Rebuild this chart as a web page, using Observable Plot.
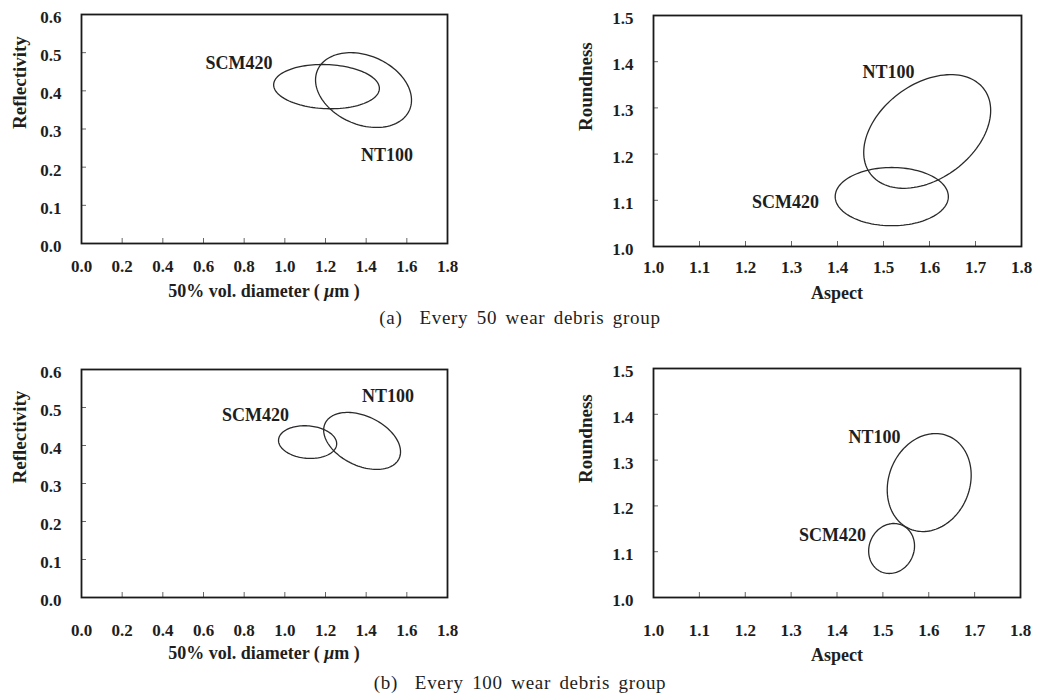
<!DOCTYPE html>
<html><head><meta charset="utf-8">
<script src="https://cdn.jsdelivr.net/npm/d3@7"></script>
<script src="https://cdn.jsdelivr.net/npm/@observablehq/plot@0.6"></script>
<style>
body{margin:0;background:#fff;}
#fig{position:relative;width:1037px;height:696px;overflow:hidden;background:#fff;font-family:"Liberation Serif","Times New Roman",serif;color:#1e1e1e;}
.panel{position:absolute;}
.xt{position:absolute;font-weight:bold;font-size:18px;transform:translate(-50%,-50%);white-space:nowrap;}
.cap{position:absolute;font-size:19px;transform:translate(-50%,-50%);white-space:nowrap;letter-spacing:0.7px;word-spacing:3px;}
</style></head><body><div id="fig"></div>
<script>
// ---------- data ----------
const diamTicks = [0.0, 0.2, 0.4, 0.6, 0.8, 1.0, 1.2, 1.4, 1.6, 1.8];
const diamTickLabels = ["0.0","0.2","0.4","0.6","0.8","1.0","1.2","1.4","1.6","1.8"];
const reflTicks = [0.0, 0.1, 0.2, 0.3, 0.4, 0.5, 0.6];
const reflTickLabels = ["0.0","0.1","0.2","0.3","0.4","0.5","0.6"];
const aspectTicks = [1.0, 1.1, 1.2, 1.3, 1.4, 1.5, 1.6, 1.7, 1.8];
const aspectTickLabels = ["1.0","1.1","1.2","1.3","1.4","1.5","1.6","1.7","1.8"];
const roundTicks = [1.0, 1.1, 1.2, 1.3, 1.4, 1.5];
const roundTickLabels = ["1.0","1.1","1.2","1.3","1.4","1.5"];

const materials = ["SCM420", "NT100"];

// (a) every 50 wear debris group — diameter vs reflectivity ellipses
const a_dr_cx = [1.205, 1.387];
const a_dr_cy = [0.411, 0.402];
const a_dr_hx = [0.260, 0.236];
const a_dr_hy = [0.058, 0.098];
const a_dr_tilt = [-0.08, -0.27];
const a_dr_labelX = [0.775, 1.502];
const a_dr_labelY = [0.472, 0.231];

// (a) aspect vs roundness
const a_ar_cx = [1.518, 1.595];
const a_ar_cy = [1.108, 1.249];
const a_ar_hx = [0.123, 0.138];
const a_ar_hy = [0.063, 0.123];
const a_ar_tilt = [0.0, 0.37];
const a_ar_labelX = [1.287, 1.511];
const a_ar_labelY = [1.095, 1.377];

// (b) every 100 wear debris group — diameter vs reflectivity
const b_dr_cx = [1.112, 1.380];
const b_dr_cy = [0.409, 0.412];
const b_dr_hx = [0.143, 0.189];
const b_dr_hy = [0.043, 0.075];
const b_dr_tilt = [-0.1, -0.38];
const b_dr_labelX = [0.856, 1.507];
const b_dr_labelY = [0.479, 0.529];

// (b) aspect vs roundness
const b_ar_cx = [1.519, 1.601];
const b_ar_cy = [1.107, 1.251];
const b_ar_hx = [0.050, 0.0915];
const b_ar_hy = [0.0546, 0.107];
const b_ar_tilt = [0.1, 0.15];
const b_ar_labelX = [1.390, 1.4815];
const b_ar_labelY = [1.135, 1.349];

// ---------- helpers ----------
// outline of an ellipse given its centre, half-extents and tilt (correlation)
function outline(cx, cy, hx, hy, tilt) {
  const rows = [];
  materials.forEach((m, k) => {
    const d = Math.acos(tilt[k]);
    for (let i = 0; i < 120; i++) {
      const t = 2 * Math.PI * i / 120;
      rows.push({material: m, x: cx[k] + hx[k] * Math.cos(t), y: cy[k] + hy[k] * Math.cos(t + d)});
    }
  });
  return rows;
}
function labels(lx, ly) {
  return materials.map((m, k) => ({material: m, x: lx[k], y: ly[k]}));
}

const INK = "#1e1e1e";

function panel({xDomain, yDomain, xTicks, xLabels, yTicks, yLabels, ell, lab, yTitle, yTitleDx,
                width, height, mL, mR, mT, mB, xPad}) {
  return Plot.plot({
    width, height,
    marginLeft: mL, marginRight: mR, marginTop: mT, marginBottom: mB,
    x: {domain: xDomain},
    y: {domain: yDomain},
    style: {fontFamily: "'Liberation Serif','Times New Roman',serif", fontSize: "17px", fontWeight: "bold", color: INK, background: "transparent", overflow: "visible"},
    marks: [
      Plot.axisX({ticks: xTicks, tickFormat: d => xLabels[xTicks.indexOf(d)], tickSize: 0, tickPadding: xPad, label: null, fill: INK}),
      Plot.axisY({ticks: yTicks, tickFormat: d => yLabels[yTicks.indexOf(d)], tickSize: 0, tickPadding: 20, dy: 3, label: null, fill: INK}),
      Plot.axisX({ticks: xTicks, tickSize: 5, dy: -5, fill: "none", label: null, stroke: "#666"}),
      Plot.axisY({ticks: yTicks, tickSize: 5, dx: 5, fill: "none", label: null, stroke: "#666"}),
      Plot.line(ell, {x: "x", y: "y", z: "material", curve: "linear-closed", stroke: "#2a2a2a", strokeWidth: 1.3}),
      Plot.text(lab, {x: "x", y: "y", text: "material", fontSize: 18, fontWeight: "bold", fill: INK}),
      Plot.text([yTitle], {frameAnchor: "left", rotate: -90, dx: yTitleDx, fontSize: 19, fontWeight: "bold", fill: INK}),
      Plot.frame({stroke: "#1a1a1a", strokeWidth: 1.8})
    ]
  });
}

const fig = document.getElementById("fig");
function place(el, left, top) {
  el.classList.add("panel");
  el.style.left = left + "px";
  el.style.top = top + "px";
  fig.appendChild(el);
}
function html(cls, inner, x, y) {
  const d = document.createElement("div");
  d.className = cls;
  d.innerHTML = inner;
  d.style.left = x + "px";
  d.style.top = y + "px";
  fig.appendChild(d);
}

// (a) row
place(panel({xDomain: [0, 1.8], yDomain: [0, 0.6], xTicks: diamTicks, xLabels: diamTickLabels, yTicks: reflTicks, yLabels: reflTickLabels,
  ell: outline(a_dr_cx, a_dr_cy, a_dr_hx, a_dr_hy, a_dr_tilt), lab: labels(a_dr_labelX, a_dr_labelY),
  yTitle: "Reflectivity", yTitleDx: -62, width: 460, height: 280, mL: 81, mR: 13, mT: 14, mB: 37, xPad: 16}), 0, 0);
place(panel({xDomain: [1.0, 1.8], yDomain: [1.0, 1.5], xTicks: aspectTicks, xLabels: aspectTickLabels, yTicks: roundTicks, yLabels: roundTickLabels,
  ell: outline(a_ar_cx, a_ar_cy, a_ar_hx, a_ar_hy, a_ar_tilt), lab: labels(a_ar_labelX, a_ar_labelY),
  yTitle: "Roundness", yTitleDx: -68, width: 517, height: 280, mL: 133, mR: 16, mT: 15, mB: 34, xPad: 14}), 520, 0);
html("xt", "50% vol. diameter ( <i>μ</i>m )", 264, 291);
html("xt", "Aspect", 837, 293);
html("cap", "(a)&nbsp; Every 50 wear debris group", 520, 318);

// (b) row
place(panel({xDomain: [0, 1.8], yDomain: [0, 0.6], xTicks: diamTicks, xLabels: diamTickLabels, yTicks: reflTicks, yLabels: reflTickLabels,
  ell: outline(b_dr_cx, b_dr_cy, b_dr_hx, b_dr_hy, b_dr_tilt), lab: labels(b_dr_labelX, b_dr_labelY),
  yTitle: "Reflectivity", yTitleDx: -62, width: 460, height: 285, mL: 81, mR: 13, mT: 14, mB: 43, xPad: 26}), 0, 355);
place(panel({xDomain: [1.0, 1.8], yDomain: [1.0, 1.5], xTicks: aspectTicks, xLabels: aspectTickLabels, yTicks: roundTicks, yLabels: roundTickLabels,
  ell: outline(b_ar_cx, b_ar_cy, b_ar_hx, b_ar_hy, b_ar_tilt), lab: labels(b_ar_labelX, b_ar_labelY),
  yTitle: "Roundness", yTitleDx: -68, width: 517, height: 285, mL: 133, mR: 17, mT: 13, mB: 43, xPad: 26}), 520, 355);
html("xt", "50% vol. diameter ( <i>μ</i>m )", 264, 653);
html("xt", "Aspect", 837, 655);
html("cap", "(b)&nbsp; Every 100 wear debris group", 520, 683);
</script>
</body></html>
